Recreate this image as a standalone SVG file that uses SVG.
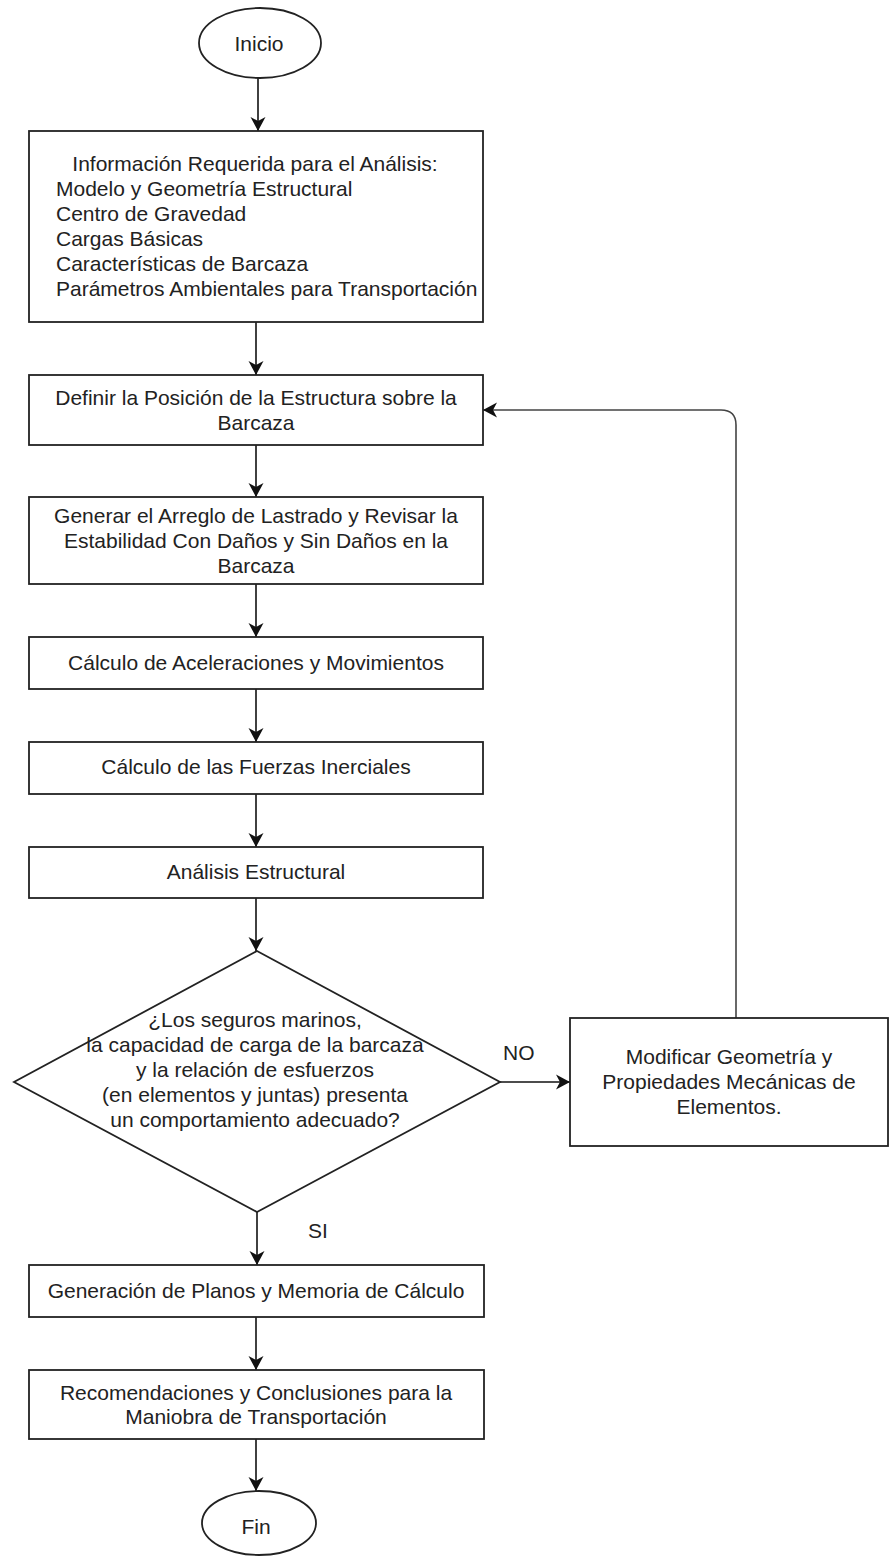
<svg xmlns="http://www.w3.org/2000/svg" width="890" height="1557" viewBox="0 0 890 1557">
<style>
.box{fill:#fff;stroke:#222;stroke-width:1.8}
.t{font-family:"Liberation Sans",Arial,sans-serif;font-size:21px;fill:#222}
.c{text-anchor:middle}
.ln{fill:none;stroke:#111;stroke-width:1.6}
.fb{fill:none;stroke:#444;stroke-width:1.6}
</style>
<defs>
<marker id="arr" markerUnits="userSpaceOnUse" markerWidth="18" markerHeight="18" viewBox="-16 -9 18 18" refX="0" refY="0" orient="auto">
<path d="M0,0 L-14,-7.5 L-10,0 L-14,7.5 Z" fill="#111"/>
</marker>
</defs>
<rect width="890" height="1557" fill="#fff"/>
<g id="connectors">
<line class="ln" x1="258" y1="78" x2="258" y2="131" marker-end="url(#arr)"/>
<line class="ln" x1="256" y1="322" x2="256" y2="375" marker-end="url(#arr)"/>
<line class="ln" x1="256" y1="445" x2="256" y2="497" marker-end="url(#arr)"/>
<line class="ln" x1="256" y1="584" x2="256" y2="637" marker-end="url(#arr)"/>
<line class="ln" x1="256" y1="689" x2="256" y2="742" marker-end="url(#arr)"/>
<line class="ln" x1="256" y1="794" x2="256" y2="847" marker-end="url(#arr)"/>
<line class="ln" x1="256" y1="898" x2="256" y2="951" marker-end="url(#arr)"/>
<line class="ln" x1="257" y1="1212" x2="257" y2="1265" marker-end="url(#arr)"/>
<line class="ln" x1="256" y1="1317" x2="256" y2="1370" marker-end="url(#arr)"/>
<line class="ln" x1="256" y1="1439" x2="256" y2="1491" marker-end="url(#arr)"/>
<line class="ln" x1="500" y1="1082" x2="570" y2="1082" marker-end="url(#arr)"/>
<path class="fb" d="M736,1018 L736,425 Q736,410 721,410 L483,410" marker-end="url(#arr)"/>
<text class="t" x="503" y="1060">NO</text>
<text class="t" x="308" y="1238">SI</text>
</g>
<g id="inicio">
<ellipse cx="260" cy="43" rx="61" ry="35" class="box"/>
<text class="t c" x="259" y="50.5">Inicio</text>
</g>
<g id="info">
<rect class="box" x="29" y="131" width="454" height="191"/>
<text class="t c" x="255" y="171">Información Requerida para el Análisis:</text>
<text class="t" x="56" y="196">Modelo y Geometría Estructural</text>
<text class="t" x="56" y="221">Centro de Gravedad</text>
<text class="t" x="56" y="246">Cargas Básicas</text>
<text class="t" x="56" y="271">Características de Barcaza</text>
<text class="t" x="56" y="296">Parámetros Ambientales para Transportación</text>
</g>
<g id="posicion">
<rect class="box" x="29" y="375" width="454" height="70"/>
<text class="t c" x="256" y="404.5">Definir la Posición de la Estructura sobre la</text>
<text class="t c" x="256" y="430">Barcaza</text>
</g>
<g id="lastrado">
<rect class="box" x="29" y="497" width="454" height="87"/>
<text class="t c" x="256" y="523">Generar el Arreglo de Lastrado y Revisar la</text>
<text class="t c" x="256" y="548">Estabilidad Con Daños y Sin Daños en la</text>
<text class="t c" x="256" y="573">Barcaza</text>
</g>
<g id="aceleraciones">
<rect class="box" x="29" y="637" width="454" height="52"/>
<text class="t c" x="256" y="670">Cálculo de Aceleraciones y Movimientos</text>
</g>
<g id="inerciales">
<rect class="box" x="29" y="742" width="454" height="52"/>
<text class="t c" x="256" y="774">Cálculo de las Fuerzas Inerciales</text>
</g>
<g id="analisis">
<rect class="box" x="29" y="847" width="454" height="51"/>
<text class="t c" x="256" y="879">Análisis Estructural</text>
</g>
<g id="decision">
<polygon class="box" points="257,951 500,1082 257,1212 14,1082"/>
<text class="t c" x="255" y="1027">¿Los seguros marinos,</text>
<text class="t c" x="255" y="1052">la capacidad de carga de la barcaza</text>
<text class="t c" x="255" y="1077">y la relación de esfuerzos</text>
<text class="t c" x="255" y="1102">(en elementos y juntas) presenta</text>
<text class="t c" x="255" y="1127">un comportamiento adecuado?</text>
</g>
<g id="modificar">
<rect class="box" x="570" y="1018" width="318" height="128"/>
<text class="t c" x="729" y="1064">Modificar Geometría y</text>
<text class="t c" x="729" y="1089">Propiedades Mecánicas de</text>
<text class="t c" x="729" y="1114">Elementos.</text>
</g>
<g id="planos">
<rect class="box" x="29" y="1265" width="455" height="52"/>
<text class="t c" x="256" y="1298">Generación de Planos y Memoria de Cálculo</text>
</g>
<g id="recomendaciones">
<rect class="box" x="29" y="1370" width="455" height="69"/>
<text class="t c" x="256" y="1400">Recomendaciones y Conclusiones para la</text>
<text class="t c" x="256" y="1424">Maniobra de Transportación</text>
</g>
<g id="fin">
<ellipse cx="259" cy="1523" rx="57" ry="32" class="box"/>
<text class="t c" x="256" y="1534">Fin</text>
</g>
</svg>
